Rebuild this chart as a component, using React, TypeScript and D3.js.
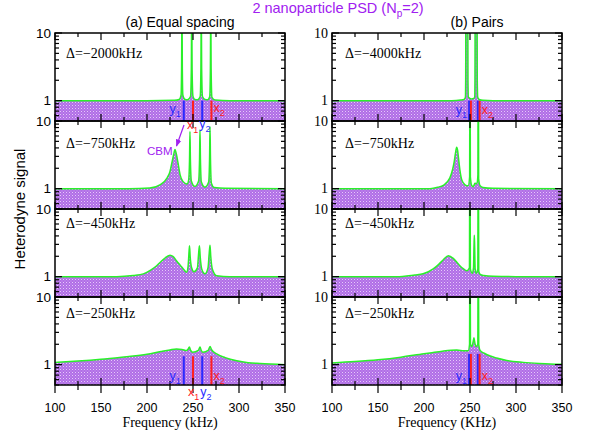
import React from 'react';
import * as d3 from 'd3';

type Pt = [number, number];

// ---------- data ----------
const xMajor = [100, 150, 200, 250, 300, 350];
const xMinor = [125, 175, 225, 275, 325];
const yMajor = [1, 10];
const yMinor = [0.5, 0.6, 0.7, 0.8, 0.9, 2, 3, 4, 5, 6, 7, 8, 9];
const yLabels = ['1', '10'];

const deltaA = ['Δ=−2000kHz', 'Δ=−750kHz', 'Δ=−450kHz', 'Δ=−250kHz'];
const deltaB = ['Δ=−4000kHz', 'Δ=−750kHz', 'Δ=−450kHz', 'Δ=−250kHz'];

const specA1: Pt[] = [
  [100, 1], [200, 1], [230, 1.01], [235, 1.04], [237, 1.2], [237.6, 3], [238, 30], [238.4, 3], [239, 1.2],
  [241, 1.05], [244, 1.03], [247.3, 1.15], [248.2, 3], [248.6, 30], [249, 3], [250, 1.15], [252, 1.04],
  [255, 1.03], [257.8, 1.15], [258.6, 3], [259, 30], [259.4, 3], [260.3, 1.15], [263, 1.04], [266, 1.03],
  [268.2, 1.15], [268.9, 3], [269.3, 30], [269.7, 3], [270.6, 1.12], [274, 1.02], [290, 1], [350, 1],
];
const specA2: Pt[] = [
  [100, 1], [180, 1.0], [203, 1.02], [214, 1.14], [221.7, 1.43], [225, 1.8], [227, 2.4], [229, 3.2], [230.4, 3.8],
  [232, 3.2], [233.7, 2.4], [236, 1.6], [239, 1.28], [243.5, 1.17], [245.3, 1.35], [246.2, 2.6], [246.7, 7],
  [247.2, 2.6], [248.2, 1.3], [252, 1.08], [256.1, 1.3], [257.1, 2.7], [257.6, 7.4], [258.1, 2.7], [259.1, 1.25],
  [263, 1.05], [267, 1.25], [268, 2.8], [268.5, 8.2], [269, 2.8], [270, 1.2], [273, 1.04], [285, 1.01], [350, 1],
];
const specA3: Pt[] = [
  [100, 1], [167, 1.0], [185, 1.04], [196, 1.1], [204, 1.25], [210.5, 1.45], [215, 1.66], [219.6, 1.88],
  [225, 2.08], [228.5, 1.98], [232, 1.72], [236, 1.48], [239.5, 1.3], [243, 1.16], [244.6, 1.4], [245.5, 2.1],
  [246.2, 2.86], [246.9, 2.0], [248.5, 1.35], [251, 1.18], [254.8, 1.35], [256, 2.1], [257, 2.86], [257.8, 2.0],
  [259.5, 1.3], [263, 1.1], [266.3, 1.35], [267.6, 2.2], [268.5, 2.9], [269.3, 2.0], [271, 1.3], [275.7, 1.03],
  [290, 1.0], [350, 1],
];
const specA4: Pt[] = [
  [100, 1.08], [125, 1.13], [150, 1.2], [175, 1.3], [200, 1.42], [215, 1.56], [225, 1.65], [232, 1.7],
  [238, 1.68], [243, 1.62], [244.8, 1.7], [246, 1.82], [247.5, 1.62], [249.6, 1.52], [255.8, 1.62],
  [257.6, 1.82], [259, 1.62], [260.8, 1.52], [266.5, 1.62], [268.5, 1.86], [270.2, 1.66], [275.7, 1.44],
  [285, 1.27], [297.5, 1.14], [310, 1.07], [322.8, 1.04], [350, 1.0],
];
const specB1: Pt[] = [
  [100, 1], [230, 1.0], [240, 1.02], [243.5, 1.04], [245, 1.12], [245.3, 2], [245.5, 30], [247.6, 30],
  [247.8, 2], [248.3, 1.12], [251.5, 1.06], [254, 1.08], [255.1, 1.12], [255.4, 2], [255.6, 30], [257.7, 30],
  [257.9, 2], [258.4, 1.12], [260, 1.04], [264, 1.01], [275, 1], [350, 1],
];
const specB2: Pt[] = [
  [100, 1], [206.5, 1.0], [215, 1.05], [221, 1.12], [228, 1.43], [231, 1.9], [232.6, 2.4], [234.3, 3.4],
  [235.5, 4.1], [236.5, 3.7], [237.3, 3.0], [239, 1.9], [241, 1.36], [244.6, 1.14], [248, 1.1], [249.6, 1.5],
  [249.8, 30], [250.2, 30], [250.4, 1.5], [252, 1.1], [253.5, 1.07], [255.4, 1.2], [257.5, 1.18], [258.6, 1.6],
  [258.8, 30], [259.2, 30], [259.4, 1.4], [261, 1.1], [264, 1.04], [275, 1.01], [350, 1],
];
const specB3: Pt[] = [
  [100, 1], [170, 1.0], [190, 1.06], [199, 1.1], [210, 1.3], [216, 1.52], [221, 1.78], [226.5, 2.04],
  [231.8, 1.86], [235.5, 1.65], [239, 1.45], [243, 1.3], [246.4, 1.22], [249.4, 1.35], [249.7, 30],
  [250.1, 30], [250.4, 1.3], [252.5, 1.12], [253.8, 1.35], [254.35, 2.8], [254.7, 4.1], [255.05, 2.8],
  [255.6, 1.3], [256.8, 1.12], [258.5, 1.3], [258.8, 30], [259.2, 30], [259.5, 1.2], [261, 1.08],
  [265, 1.04], [275, 1.01], [300, 1.0], [350, 1],
];
const specB4: Pt[] = [
  [100, 1.06], [125, 1.11], [150, 1.18], [175, 1.29], [200, 1.45], [206.5, 1.49], [220, 1.58], [235.5, 1.64],
  [243, 1.61], [248, 1.6], [249.5, 2], [249.8, 30], [250.2, 30], [250.5, 2], [252, 1.85], [253.5, 2.2],
  [254.3, 2.5], [255, 2.2], [256.5, 1.85], [258.5, 2], [258.8, 30], [259.2, 30], [259.5, 2], [261, 1.62],
  [266, 1.46], [272, 1.34], [279, 1.25], [290, 1.15], [308, 1.08], [325, 1.04], [337, 1.02], [350, 1.01],
];

const specsA = [specA1, specA2, specA3, specA4];
const specsB = [specB1, specB2, specB3, specB4];

// mode frequencies: y1, x1, y2, x2
const modeNames = ['y', 'x', 'y', 'x'];
const modeIdx = ['1', '1', '2', '2'];
const modesA = [240, 250, 260, 270];
const modesB = [249, 251, 258.5, 260.5];
// heights of the mode markers in rows 1 and 4
const markTopA = [1.0, 1.33];
const markTopB = [1.0, 1.44];

// ---------- styling ----------
const W = 595;
const H = 436;
const SANS = '"Liberation Sans", Arial, Helvetica, sans-serif';
const SERIF = '"Liberation Serif", "Times New Roman", serif';
const GREEN = '#2af02a';
const BLUE = '#2a2aff';
const RED = '#ff2020';
const PURPLE = '#a020f0';
const colLeft = [55, 332];
const colWidth = 230;
const rowTops = [33, 121, 209, 297];
const rowH = 88;
const deltaOffsets = [25, 27, 19, 21];

const x0s = colLeft.map((l) => d3.scaleLinear().domain([100, 350]).range([l, l + colWidth]));

function Panel({ col, row, data, delta }: { col: number; row: number; data: Pt[]; delta: string }) {
  const x = x0s[col];
  const top = rowTops[row];
  const y = d3.scaleLog().domain([0.5, 10]).range([top + rowH, top]);
  const left = colLeft[col];
  const right = left + colWidth;
  const bottom = top + rowH;
  const clipId = `clip-${col}-${row}`;
  const area = d3
    .area<Pt>()
    .x((d) => x(d[0]))
    .y0(y(0.5))
    .y1((d) => y(d[1]))
    .curve(d3.curveMonotoneX);
  const line = d3
    .line<Pt>()
    .x((d) => x(d[0]))
    .y((d) => y(d[1]))
    .curve(d3.curveMonotoneX);
  const modes = col === 0 ? modesA : modesB;
  const tops = col === 0 ? markTopA : markTopB;
  const markIdx = row === 0 ? 0 : row === 3 ? 1 : -1;
  const isBottom = row === 3;
  const tickFont = col === 0 ? SANS : SERIF;
  const tickSize = col === 0 ? 13.5 : 14;
  const tk = { stroke: '#000', strokeWidth: 1.2 };
  return (
    <g>
      <clipPath id={clipId}>
        <rect x={left} y={top} width={colWidth} height={rowH} />
      </clipPath>
      <g clipPath={`url(#${clipId})`}>
        <path d={area(data) || ''} fill="url(#hatch)" stroke="none" />
        {markIdx >= 0 &&
          modes.map((m, i) => (
            <line
              key={i}
              x1={x(m)}
              x2={x(m)}
              y1={y(0.5)}
              y2={y(tops[markIdx])}
              stroke={i % 2 === 0 ? BLUE : RED}
              strokeWidth={2}
            />
          ))}
        <path d={line(data) || ''} fill="none" stroke={GREEN} strokeWidth={1.5} />
      </g>
      {/* ticks */}
      {xMajor.map((t) => (
        <g key={'xM' + t}>
          <line x1={x(t)} x2={x(t)} y1={bottom} y2={bottom - 7} {...tk} />
          <line x1={x(t)} x2={x(t)} y1={top} y2={top + 7} {...tk} />
          {isBottom && <line x1={x(t)} x2={x(t)} y1={bottom} y2={bottom + 8} {...tk} />}
        </g>
      ))}
      {xMinor.map((t) => (
        <g key={'xm' + t}>
          <line x1={x(t)} x2={x(t)} y1={bottom} y2={bottom - 4} {...tk} />
          <line x1={x(t)} x2={x(t)} y1={top} y2={top + 4} {...tk} />
          {isBottom && <line x1={x(t)} x2={x(t)} y1={bottom} y2={bottom + 5} {...tk} />}
        </g>
      ))}
      {yMajor.map((t) => (
        <g key={'yM' + t}>
          <line x1={left} x2={left + 7} y1={y(t)} y2={y(t)} {...tk} />
          <line x1={right} x2={right - 7} y1={y(t)} y2={y(t)} {...tk} />
        </g>
      ))}
      {yMinor.map((t) => (
        <g key={'ym' + t}>
          <line x1={left} x2={left + 4} y1={y(t)} y2={y(t)} {...tk} />
          <line x1={right} x2={right - 4} y1={y(t)} y2={y(t)} {...tk} />
        </g>
      ))}
      <rect x={left} y={top} width={colWidth} height={rowH} fill="none" stroke="#000" strokeWidth={1.5} />
      {yMajor.map((t, i) => (
        <text
          key={'yl' + t}
          x={left - 4}
          y={y(t)}
          textAnchor="end"
          dominantBaseline="central"
          fontFamily={tickFont}
          fontSize={tickSize}
        >
          {yLabels[i]}
        </text>
      ))}
      <text x={left + (col === 0 ? 11 : 13)} y={top + deltaOffsets[row]} fontFamily={SERIF} fontSize={14}>
        {delta}
      </text>
      {isBottom &&
        xMajor.map((t) => (
          <text key={'xl' + t} x={x(t)} y={412} textAnchor="middle" fontFamily={SANS} fontSize={12.5}>
            {t}
          </text>
        ))}
    </g>
  );
}

function ModeLabel({ px, py, i, anchor }: { px: number; py: number; i: number; anchor?: string }) {
  return (
    <text
      x={px}
      y={py}
      fontFamily={SANS}
      fontSize={12.5}
      fill={i % 2 === 0 ? BLUE : RED}
      textAnchor={anchor || 'start'}
    >
      <tspan>{modeNames[i]}</tspan>
      <tspan dy={3.5} fontSize={9}>
        {modeIdx[i]}
      </tspan>
    </text>
  );
}

export default function App() {
  const xa = x0s[0];
  const xb = x0s[1];
  return (
    <svg
      width={W}
      height={H}
      viewBox={`0 0 ${W} ${H}`}
      style={{ position: 'absolute', left: 0, top: 0, background: '#fff' }}
    >
      <defs>
        <pattern id="hatch" width={3} height={3} patternUnits="userSpaceOnUse">
          <rect width={3} height={3} fill="#b06ee6" />
          <rect x={0} y={0} width={1} height={1} fill="#e6cafa" />
          <rect x={1.5} y={1.5} width={1} height={1} fill="#cfa2f2" />
        </pattern>
        <marker id="arrow" viewBox="0 0 10 10" refX={9} refY={5} markerWidth={6} markerHeight={6} orient="auto">
          <path d="M0,1 L10,5 L0,9 z" fill={PURPLE} />
        </marker>
      </defs>
      <rect width={W} height={H} fill="#fff" />
      <text x={338} y={13} textAnchor="middle" fontFamily={SANS} fontSize={14.5} fill={PURPLE}>
        <tspan>2 nanoparticle PSD (N</tspan>
        <tspan dy={4} fontSize={10}>p</tspan>
        <tspan dy={-4}>=2)</tspan>
      </text>
      <text x={180} y={27} textAnchor="middle" fontFamily={SANS} fontSize={14}>
        (a) Equal spacing
      </text>
      <text x={477} y={27} textAnchor="middle" fontFamily={SANS} fontSize={14}>
        (b) Pairs
      </text>
      <text
        transform="translate(25,209) rotate(-90)"
        textAnchor="middle"
        fontFamily={SANS}
        fontSize={15}
      >
        Heterodyne signal
      </text>
      {specsA.map((d, r) => (
        <Panel key={'a' + r} col={0} row={r} data={d} delta={deltaA[r]} />
      ))}
      {specsB.map((d, r) => (
        <Panel key={'b' + r} col={1} row={r} data={d} delta={deltaB[r]} />
      ))}
      {/* mode labels, panel (a) row 1 */}
      <ModeLabel px={xa(modesA[0]) - 3} py={113} i={0} anchor="end" />
      <ModeLabel px={xa(modesA[1]) - 6} py={129} i={1} />
      <ModeLabel px={xa(modesA[2]) - 3} py={128} i={2} />
      <ModeLabel px={xa(modesA[3]) + 2} py={112} i={3} />
      {/* mode labels, panel (a) row 4 */}
      <ModeLabel px={xa(modesA[0]) - 3} py={380} i={0} anchor="end" />
      <ModeLabel px={xa(modesA[1]) - 5} py={396} i={1} />
      <ModeLabel px={xa(modesA[2]) - 2} py={396} i={2} />
      <ModeLabel px={xa(modesA[3]) + 2} py={380} i={3} />
      {/* mode labels, panel (b) */}
      <ModeLabel px={xb(modesB[0]) - 2} py={114} i={0} anchor="end" />
      <ModeLabel px={xb(modesB[3]) + 2} py={114} i={3} />
      <ModeLabel px={xb(modesB[0]) - 2} py={380} i={0} anchor="end" />
      <ModeLabel px={xb(modesB[3]) + 2} py={380} i={3} />
      {/* CBM annotation */}
      <line
        x1={xa(250) - 9}
        y1={125}
        x2={xa(231) + 1}
        y2={146}
        stroke={PURPLE}
        strokeWidth={1.2}
        markerEnd="url(#arrow)"
      />
      <text x={147} y={155} fontFamily={SANS} fontSize={11.5} fill={PURPLE}>
        CBM
      </text>
      <text x={170} y={427} textAnchor="middle" fontFamily={SERIF} fontSize={14}>
        Frequency (kHz)
      </text>
      <text x={447} y={427} textAnchor="middle" fontFamily={SERIF} fontSize={14}>
        Frequency (KHz)
      </text>
    </svg>
  );
}
